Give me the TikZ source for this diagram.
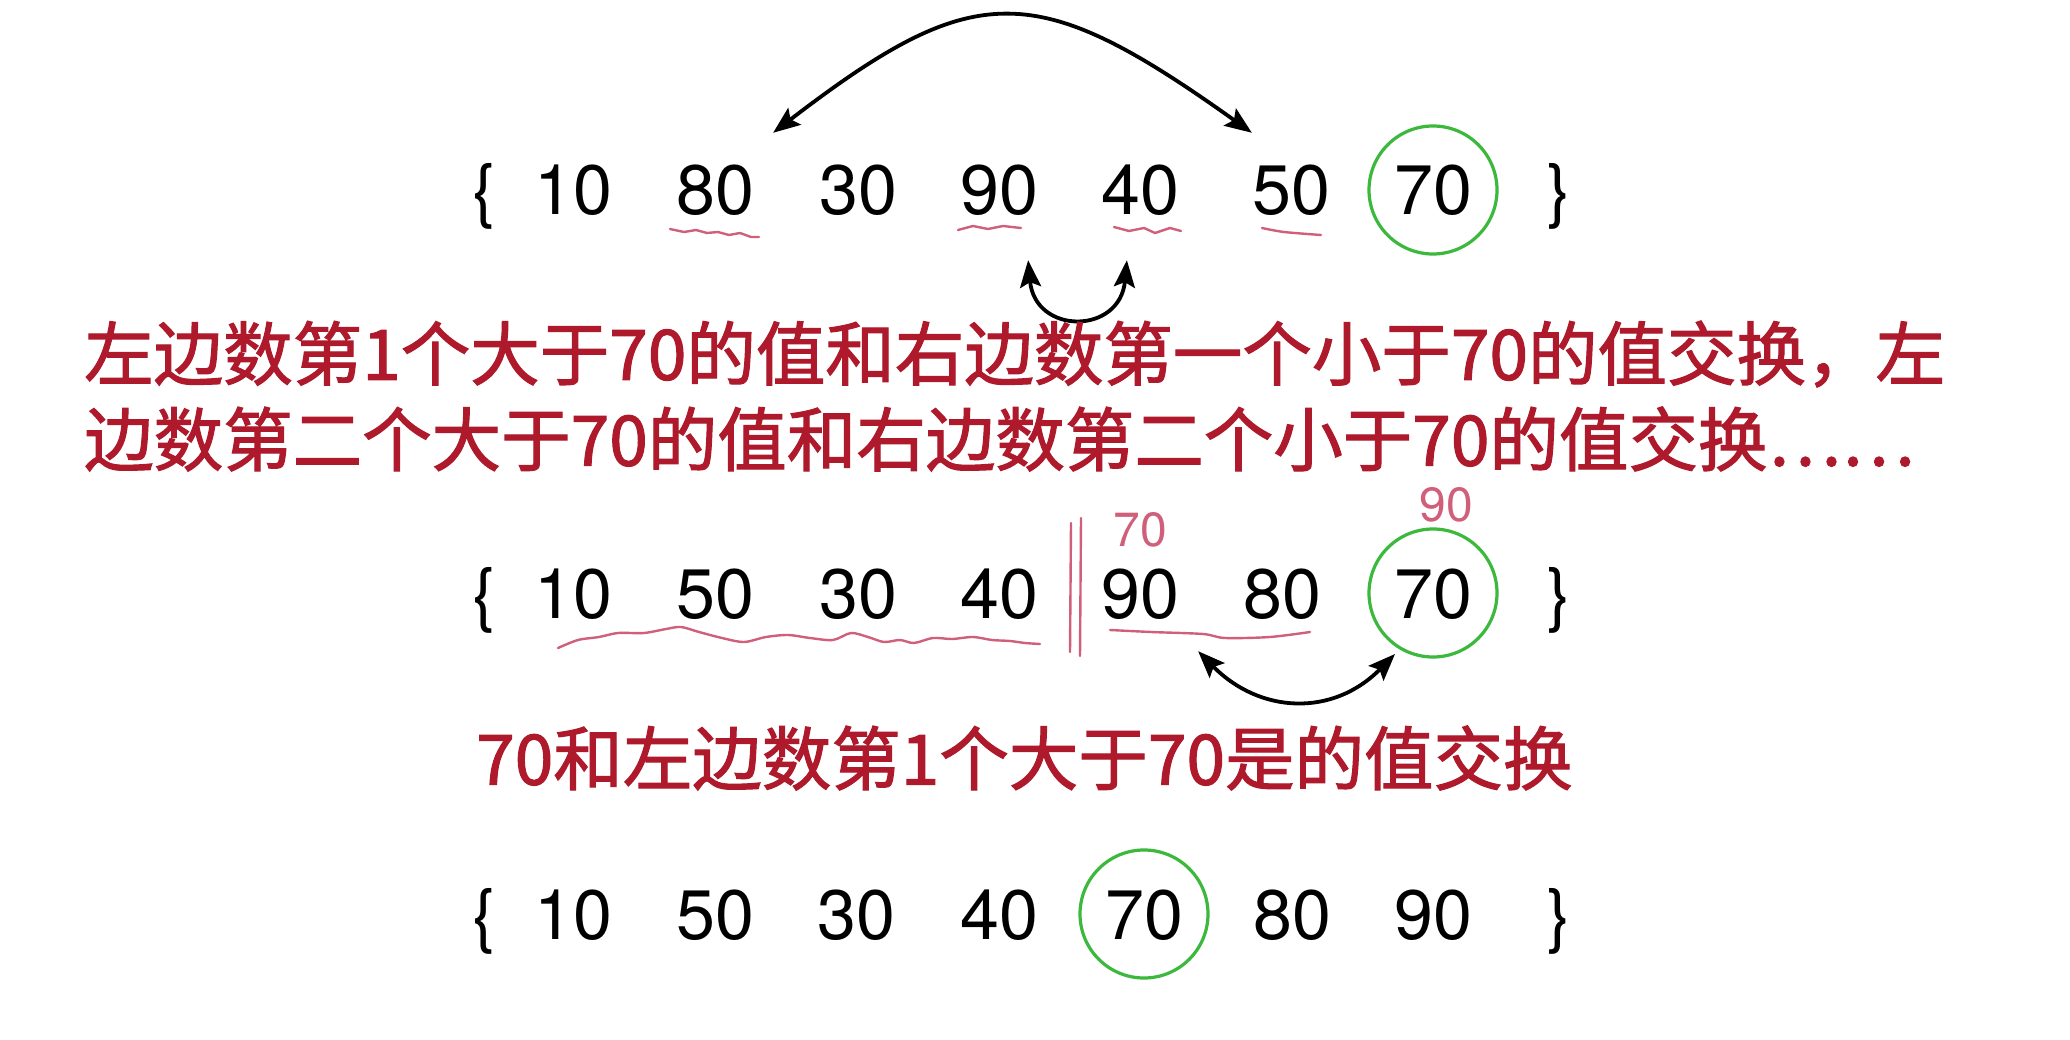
\documentclass[tikz,border=0pt]{standalone}
\usepackage{fontspec}
\usetikzlibrary{arrows.meta}
\newfontfamily\cjk{Noto Sans CJK SC}[FakeBold=1.6]
\newfontfamily\numf{TeX Gyre Heros}
\definecolor{txtred}{HTML}{AE1A2C}
\definecolor{penred}{HTML}{D0607A}
\definecolor{ringgreen}{HTML}{3CB83C}
\begin{document}
\begin{tikzpicture}[x=1pt,y=-1pt,
  num/.style={font=\numf\fontsize{70}{70}\selectfont, inner sep=0pt, text height=50pt, text depth=0pt},
  ring/.style={num, circle, draw=ringgreen, line width=3.2pt, minimum size=128pt},
  swap/.style={{Stealth[length=27pt,width=21pt,inset=5pt]}-{Stealth[length=27pt,width=21pt,inset=5pt]}, line width=3.8pt},
  note/.style={font=\cjk\fontsize{69.5}{69.5}\selectfont, text=txtred, inner sep=0pt, anchor=west},
  pen/.style={penred, line width=2.4pt, line join=round, line cap=round},
  hand/.style={font=\numf\fontsize{48}{48}\selectfont, text=penred, inner sep=0pt}
]
\fill[white] (0,0) rectangle (2070,1040);
\useasboundingbox (0,0) rectangle (2070,1040);

% ---------- row 1 ----------
\node[num] (r1l) at (484,190) {\{};
\node[num] (r1a) at (573,190) {10};
\node[num] (r1b) at (715,190) {80};
\node[num] (r1c) at (858,190) {30};
\node[num] (r1d) at (999,190) {90};
\node[num] (r1e) at (1140,190) {40};
\node[num] (r1f) at (1291,190) {50};
\node[ring] (r1g) at (1433,190) {70};
\node[num] (r1r) at (1559,190) {\}};

\coordinate (t1a) at ([shift={(19,-32)}]r1b.north east);
\coordinate (t1b) at ([shift={(0,-32)}]r1f.north west);
\draw[swap] (t1a) .. controls (975,-22) and (1035,-22) .. (t1b);

\coordinate (t1c) at ([shift={(-10,45)}]r1d.south east);
\coordinate (t1d) at ([shift={(26,45)}]r1e.south west);
\draw[swap] (t1c) .. controls (1035,335) and (1120,335) .. (t1d);

\draw[pen] plot coordinates {(670,229) (684,232) (696,230) (707,233) (718,232) (729,235) (740,233) (751,237) (759,237)};
\draw[pen] plot coordinates {(958,230) (973,226) (988,229) (1003,226) (1021,228)};
\draw[pen] plot coordinates {(1114,227) (1129,231) (1144,228) (1155,233) (1170,228) (1181,231)};
\draw[pen] plot[smooth] coordinates {(1262,228) (1284,232) (1321,235)};

% ---------- text 1 ----------
\node[note] (n1) at (84,354) {左边数第1个大于70的值和右边数第一个小于70的值交换，左};
\node[note] (n2) at (84,439) {边数第二个大于70的值和右边数第二个小于70的值交换……};

% ---------- row 2 ----------
\node[num] (r2l) at (484,593) {\{};
\node[num] (r2a) at (573,593) {10};
\node[num] (r2b) at (715,593) {50};
\node[num] (r2c) at (858,593) {30};
\node[num] (r2d) at (999,593) {40};
\node[num] (r2e) at (1140,593) {90};
\node[num] (r2f) at (1282,593) {80};
\node[ring] (r2g) at (1433,593) {70};
\node[num] (r2r) at (1559,593) {\}};

\draw[pen] (1071,523) -- (1070,652);
\draw[pen] (1081,518) -- (1080,656);
\node[hand] (h70) at (1140,530) {70};
\node[hand] (h90) at (1446,505) {90};
\draw[pen] plot[smooth] coordinates {(558,648) (578,640) (599,637) (618,633) (644,633) (666,629) (681,627) (699,632) (722,638) (744,642) (766,637) (788,635) (810,638) (833,640) (851,633) (868,637) (884,642) (900,640) (914,643) (933,638) (952,639) (973,637) (992,640) (1010,641) (1025,643) (1040,644)};
\draw[pen] plot[smooth] coordinates {(1110,630) (1151,632) (1203,634) (1225,638) (1270,637) (1310,632)};

\coordinate (t2a) at ([shift={(19,33)}]r2e.south east);
\coordinate (t2b) at ([shift={(-38,61)}]r2g.center);
\draw[swap] (t2a) .. controls (1260,714) and (1333,717) .. (t2b);

% ---------- text 2 ----------
\node[note] (n3) at (476,758) {70和左边数第1个大于70是的值交换};

% ---------- row 3 ----------
\node[num] (r3l) at (484,914) {\{};
\node[num] (r3a) at (573,914) {10};
\node[num] (r3b) at (715,914) {50};
\node[num] (r3c) at (856,914) {30};
\node[num] (r3d) at (999,914) {40};
\node[ring] (r3e) at (1144,914) {70};
\node[num] (r3f) at (1292,914) {80};
\node[num] (r3g) at (1433,914) {90};
\node[num] (r3r) at (1559,914) {\}};
\end{tikzpicture}
\end{document}
